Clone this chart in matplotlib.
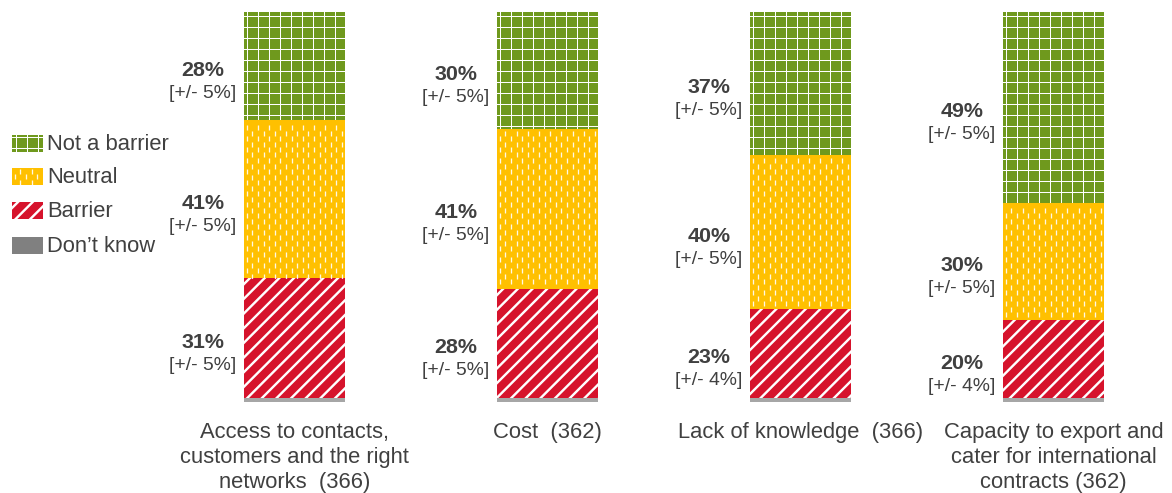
import matplotlib
matplotlib.use("Agg")
import matplotlib.pyplot as plt
import matplotlib.patches as mpatches
import numpy as np

# ---- data -----------------------------------------------------------------
categories = [
    "Access to contacts,\ncustomers and the right\nnetworks  (366)",
    "Cost  (362)",
    "Lack of knowledge  (366)",
    "Capacity to export and\ncater for international\ncontracts (362)",
]
dont_know = [1, 1, 1, 1]
barrier = [31, 28, 23, 20]
neutral = [41, 41, 40, 30]
not_barrier = [28, 30, 37, 49]
barrier_moe = [5, 5, 4, 4]
neutral_moe = [5, 5, 5, 5]
not_barrier_moe = [5, 5, 5, 5]
legend_labels = ["Not a barrier", "Neutral", "Barrier", "Don\u2019t know"]

# ---- style ------------------------------------------------------------------
DPI = 132
W, H = 1172, 493
GREEN = "#6F991D"
YELLOW = "#FFC000"
RED = "#D6132C"
GREY = "#A6A6A6"
GREY_KEY = "#808080"
TXT = "#404040"


def pt(px):
    """pixels -> points at the figure dpi"""
    return px * 72.0 / DPI


plt.rcParams["font.family"] = ["Liberation Sans", "DejaVu Sans"]
plt.rcParams["hatch.color"] = "white"

fig = plt.figure(figsize=(W / DPI, H / DPI), dpi=DPI)
fig.patch.set_facecolor("white")

# 100% stacked columns: each column is scaled to its own total
totals = (np.array(dont_know) + np.array(barrier) + np.array(neutral)
          + np.array(not_barrier)).astype(float)


def share(values):
    return np.array(values, dtype=float) / totals * 100.0


# main axes: 0 % at pixel row 402, 100 % at row 12
ax = fig.add_axes([0, (H - 402) / H, 1, 390 / H])
step = 253.0
x = np.arange(len(categories))
bw = 101 / step
ax.set_xlim(-294.5 / step, (W - 294.5) / step)
ax.set_ylim(0, 100)
ax.axis("off")
px_per_unit_y = 390 / 100.0


def hatched_bar(values, bottom, color, hatch=None, hlw=1.0):
    with plt.rc_context({"hatch.linewidth": pt(hlw)}):
        bars = ax.bar(x, values, bw, bottom=bottom, color=color,
                      hatch=hatch, linewidth=0)
    for b in bars:
        if hasattr(b, "set_hatch_linewidth"):
            b.set_hatch_linewidth(pt(hlw))
    return bars


def dash_fill(axis, patch, x0, x1, y0, y1, dx, dy, half):
    """Staggered short white vertical dashes inside a rectangle."""
    xs, ys = [], []
    ncol = int(np.floor((x1 - x0) / dx))
    r0 = int(np.floor(y0 / dy)) - 1
    r1 = int(np.ceil(y1 / dy)) + 1
    for k in range(ncol):
        cx = x0 + dx * (k + 0.5)
        off = 0.5 * dy if k % 2 else 0.0
        for r in range(r0, r1 + 1):
            cy = r * dy + off
            if y0 + half <= cy <= y1 - half:
                xs.append(cx)
                ys.append(cy)
    ln, = axis.plot(xs, ys, ls="none", marker="|", ms=pt(5), mew=pt(1.3),
                    color="white", alpha=0.9, zorder=patch.get_zorder() + 0.1)
    ln.set_clip_path(patch)


dk_h = share(dont_know)
br_h = share(barrier)
ne_h = share(neutral)
nb_h = share(not_barrier)

bottom = np.zeros(len(x))
hatched_bar(dk_h, bottom, GREY)
bottom = bottom + dk_h

hatched_bar(br_h, bottom, RED, hatch="///", hlw=2.4)
barrier_bottom = bottom.copy()
bottom = bottom + br_h

neutral_bars = hatched_bar(ne_h, bottom, YELLOW)
neutral_bottom = bottom.copy()
for i, b in enumerate(neutral_bars):
    dash_fill(ax, b, x[i] - bw / 2, x[i] + bw / 2,
              neutral_bottom[i], neutral_bottom[i] + ne_h[i],
              5.6 / step, 11 / px_per_unit_y, 2.5 / px_per_unit_y)
bottom = bottom + ne_h

hatched_bar(nb_h, bottom, GREEN, hatch="++", hlw=1.0)
green_bottom = bottom.copy()


# ---- segment labels ---------------------------------------------------------
def seg_label(i, seg_bottom, height, val, moe):
    mid = seg_bottom + height / 2.0
    xl = x[i] - bw / 2
    ax.annotate(f"{val}%", (xl, mid), xytext=(-pt(41), -pt(4)),
                textcoords="offset points", ha="center", va="center",
                fontsize=pt(21.5), fontweight="bold", color=TXT)
    ax.annotate(f"[+/- {moe}%]", (xl, mid), xytext=(-pt(41), -pt(27)),
                textcoords="offset points", ha="center", va="center",
                fontsize=pt(19.3), color=TXT)


for i in range(len(x)):
    seg_label(i, barrier_bottom[i], br_h[i], barrier[i], barrier_moe[i])
    seg_label(i, neutral_bottom[i], ne_h[i], neutral[i], neutral_moe[i])
    seg_label(i, green_bottom[i], nb_h[i], not_barrier[i], not_barrier_moe[i])

# ---- category labels --------------------------------------------------------
for i, cat in enumerate(categories):
    ax.annotate(cat, (x[i], 0), xytext=(0, -pt(20)), textcoords="offset points",
                ha="center", va="top", multialignment="center",
                linespacing=1.25, fontsize=pt(22), color=TXT,
                annotation_clip=False)

# ---- legend (pixel coordinates) --------------------------------------------
lax = fig.add_axes([0, 0, 1, 1])
lax.set_xlim(0, W)
lax.set_ylim(H, 0)
lax.axis("off")

key_styles = [
    dict(color=GREEN, hatch="++", hlw=1.0),
    dict(color=YELLOW, hatch=None, hlw=1.0),
    dict(color=RED, hatch="///", hlw=2.4),
    dict(color=GREY_KEY, hatch=None, hlw=1.0),
]
key_y = [143.5, 176.5, 210.5, 245]
for label, style, cy in zip(legend_labels, key_styles, key_y):
    with plt.rc_context({"hatch.linewidth": pt(style["hlw"])}):
        rect = mpatches.Rectangle((12, cy - 8.5), 31, 17,
                                  facecolor=style["color"],
                                  hatch=style["hatch"], linewidth=0)
    if hasattr(rect, "set_hatch_linewidth"):
        rect.set_hatch_linewidth(pt(style["hlw"]))
    lax.add_patch(rect)
    if label == "Neutral":
        dash_fill(lax, rect, 12, 43, cy - 8.5, cy + 8.5, 5.6, 11, 2.5)
    lax.text(47, cy + 1, label, ha="left", va="center",
             fontsize=pt(22), color=TXT)

fig.savefig("out.png", dpi=DPI, facecolor="white")
